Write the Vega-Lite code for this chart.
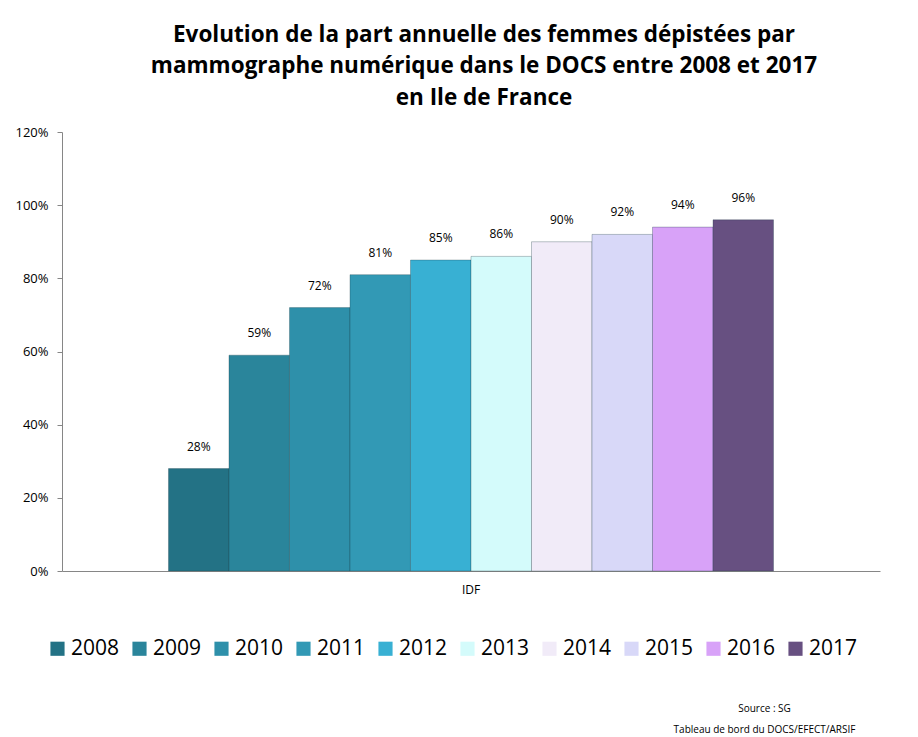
{
  "$schema": "https://vega.github.io/schema/vega-lite/v6.json",
  "width": 818,
  "height": 439,
  "autosize": "none",
  "padding": {"left": 62, "top": 132, "right": 38, "bottom": 166},
  "background": "white",
  "config": {"view": {"stroke": null}},
  "title": {
    "text": ["Evolution de la part annuelle des femmes dépistées par", "mammographe numérique dans le DOCS entre 2008 et 2017", "en Ile de France"],
    "font": "Open Sans",
    "fontSize": 22.5,
    "fontWeight": "bold",
    "lineHeight": 31.5,
    "anchor": "middle",
    "frame": "group",
    "dx": 13,
    "offset": 17,
    "color": "#000000"
  },
  "data": {
    "values": [
      {"zone": "IDF", "annee": "2008", "part": 0.28},
      {"zone": "IDF", "annee": "2009", "part": 0.59},
      {"zone": "IDF", "annee": "2010", "part": 0.72},
      {"zone": "IDF", "annee": "2011", "part": 0.81},
      {"zone": "IDF", "annee": "2012", "part": 0.85},
      {"zone": "IDF", "annee": "2013", "part": 0.86},
      {"zone": "IDF", "annee": "2014", "part": 0.90},
      {"zone": "IDF", "annee": "2015", "part": 0.92},
      {"zone": "IDF", "annee": "2016", "part": 0.94},
      {"zone": "IDF", "annee": "2017", "part": 0.96}
    ]
  },
  "encoding": {
    "x": {
      "field": "zone",
      "type": "nominal",
      "scale": {"paddingInner": 0, "paddingOuter": 0.176},
      "axis": {
        "title": ["Source : SG", "Tableau de bord du DOCS/EFECT/ARSIF"],
        "titleFont": "Open Sans",
        "titleFontSize": 10,
        "titleFontWeight": "normal",
        "titleColor": "#000000",
        "titleX": 702,
        "titleY": 132,
        "titleAlign": "center",
        "titleBaseline": "top",
        "titleLineHeight": 21,
        "labelAngle": 0,
        "labelFont": "Open Sans",
        "labelFontSize": 12,
        "labelColor": "#000000",
        "labelPadding": 13,
        "ticks": false,
        "domainColor": "#868686"
      }
    },
    "xOffset": {"field": "annee", "type": "ordinal", "scale": {"paddingInner": 0}},
    "y": {
      "field": "part",
      "type": "quantitative",
      "scale": {"domain": [0, 1.2]},
      "axis": {
        "title": null,
        "format": ".0%",
        "values": [0, 0.2, 0.4, 0.6, 0.8, 1.0, 1.2],
        "grid": false,
        "domainColor": "#868686",
        "tickColor": "#868686",
        "tickSize": 5,
        "labelFont": "Open Sans",
        "labelFontSize": 13,
        "labelColor": "#000000",
        "labelPadding": 9
      }
    }
  },
  "layer": [
    {
      "mark": {"type": "bar", "stroke": "#1a3a45", "strokeOpacity": 0.3, "strokeWidth": 1},
      "encoding": {
        "color": {
          "field": "annee",
          "type": "nominal",
          "scale": {
            "domain": ["2008", "2009", "2010", "2011", "2012", "2013", "2014", "2015", "2016", "2017"],
            "range": ["#237285", "#2a859b", "#2e90aa", "#3299b5", "#38b0d3", "#d4fbfb", "#f1ebf8", "#d8d8f8", "#d8a2f8", "#675081"]
          },
          "legend": {
            "title": null,
            "orient": "none",
            "legendX": -15,
            "legendY": 506,
            "direction": "horizontal",
            "columns": 10,
            "symbolType": "square",
            "symbolSize": 200,
            "symbolStrokeWidth": 0,
            "symbolOpacity": 1,
            "labelFont": "Open Sans",
            "labelFontSize": 21,
            "labelColor": "#000000",
            "labelOffset": 3,
            "columnPadding": 9
          }
        }
      }
    },
    {
      "mark": {"type": "text", "dy": -15, "font": "Open Sans", "fontSize": 12, "color": "#000000", "baseline": "bottom"},
      "encoding": {"text": {"field": "part", "type": "quantitative", "format": ".0%"}}
    }
  ]
}
